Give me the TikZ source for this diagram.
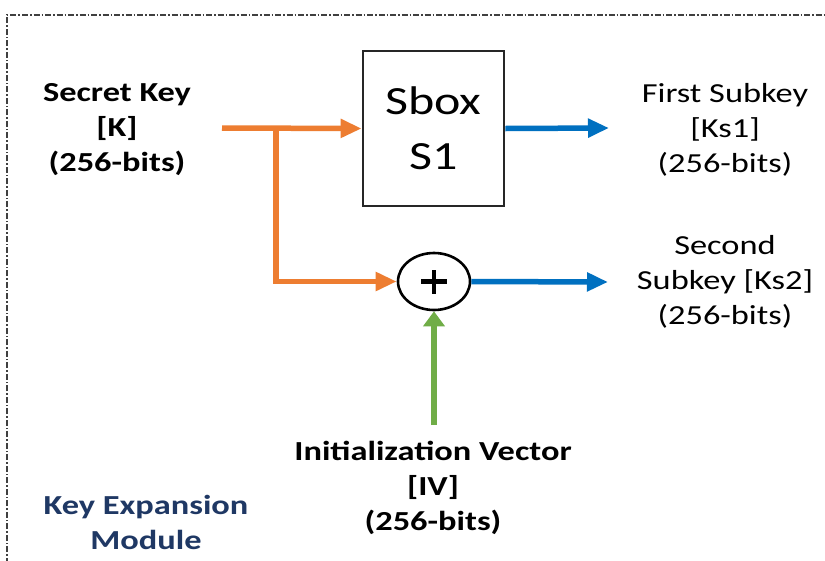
\documentclass[tikz,border=0pt]{standalone}
\usepackage{fontspec}
\setmainfont{Carlito}[FakeStretch=1.25]
\usetikzlibrary{arrows.meta,shapes.geometric}
\definecolor{keyorange}{HTML}{ED7D31}
\definecolor{keyblue}{HTML}{0070C0}
\definecolor{ivgreen}{HTML}{70AD47}
\definecolor{modnavy}{HTML}{1F3864}
\definecolor{framegray}{HTML}{404040}
\definecolor{boxgray}{HTML}{262626}
\tikzset{
  label text/.style={align=center, font=\fontsize{27.5}{35}\selectfont, inner sep=0pt},
  bold text/.style={label text, font=\fontsize{27.5}{35}\selectfont\bfseries},
  hhead/.style={-{Triangle[length=21pt,width=18pt]}},
  vhead/.style={-{Triangle[length=15pt,width=21pt]}},
  orangeflow/.style={draw=keyorange, line width=5.5pt},
  blueflow/.style={draw=keyblue, line width=5.5pt},
  greenflow/.style={draw=ivgreen, line width=6.5pt},
  sboxnode/.style={draw=boxgray, line width=2.8pt, minimum width=141pt, minimum height=155pt,
    align=center, font=\fontsize{40}{55}\selectfont, inner sep=0pt},
  xornode/.style={draw=black, line width=2.6pt, ellipse, minimum width=72pt, minimum height=57pt,
    inner sep=0pt},
  plusbar/.style={draw=black, line width=5pt},
}
\begin{document}
\begin{tikzpicture}[x=1pt,y=-1pt]
\useasboundingbox (0,0) rectangle (825,560);
\fill[white] (0,0) rectangle (825,560);

% module frame (dash-dot, open at right and bottom)
\draw[framegray, line width=1.2pt, dash pattern=on 6pt off 2pt on 1.5pt off 2pt]
  (7,575) -- (7,15) -- (835,15);

% blocks
\node[sboxnode] (sbox) at (433.5,128.5) {Sbox\\S1};
\node[xornode] (xor) at (434,281.5) {};
% plus sign of the XOR
\draw[plusbar] ([xshift=-13pt]xor.center) -- ([xshift=13pt]xor.center);
\draw[plusbar, line width=4.5pt] ([yshift=-12pt]xor.center) -- ([yshift=12pt]xor.center);

% labels
\node[bold text] (key) at (117,130) {Secret Key\\{[}K{]}\\(256-bits)};
\node[label text] (ks1) at (725,130) {First Subkey\\{[}Ks1{]}\\(256-bits)};
\node[label text] (ks2) at (725,282) {Second\\Subkey {[}Ks2{]}\\(256-bits)};
\node[bold text] (iv) at (433,488) {Initialization Vector\\{[}IV{]}\\(256-bits)};
\node[bold text, text=modnavy] (module) at (146,522) {Key Expansion\\Module};

% connector end points
\coordinate (ksrc) at (222,128);
\coordinate (split) at (276,128);
\coordinate (ks1tip) at (609,128);
\coordinate (ks2tip) at (608,282);
\coordinate (ivsrc) at (434,425);

% secret key into Sbox and XOR
\draw[orangeflow, hhead] (ksrc) -- (sbox.west);
\draw[orangeflow, hhead] (split) |- (xor.west);

% subkey outputs
\draw[blueflow, hhead] (sbox.east) -- (ks1tip);
\draw[blueflow, hhead] (xor.east) -- (ks2tip);

% initialization vector into XOR
\draw[greenflow, vhead] (ivsrc) -- (xor.south);
\end{tikzpicture}
\end{document}
